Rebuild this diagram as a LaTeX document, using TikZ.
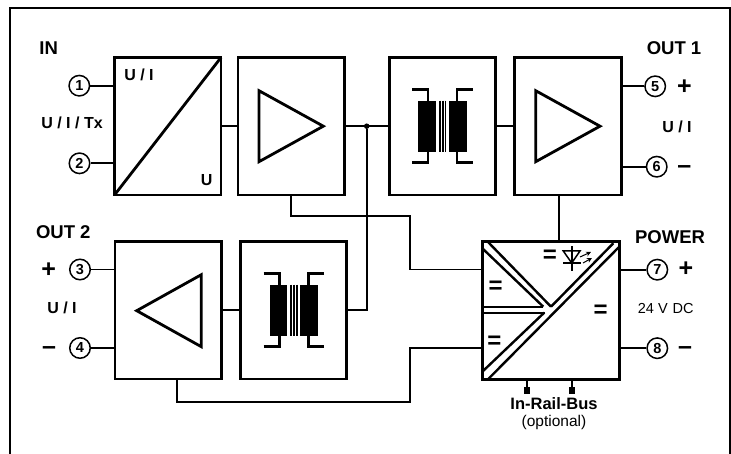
\documentclass[tikz,border=0pt]{standalone}
\usepackage{fontspec}
\setmainfont{Liberation Sans}
\usetikzlibrary{arrows.meta}
\newcommand{\fs}[1]{\fontsize{#1}{#1}\selectfont}
\tikzset{
  x=1pt,y=-1pt,
  blockbox/.style={draw,line width=2.8pt,inner sep=0,outer sep=0,minimum width=106.5pt,minimum height=137.5pt},
  pin/.style={draw,circle,line width=1.5pt,minimum size=20.5pt,inner sep=0,fill=white,font=\bfseries\fs{14.5}},
  wire/.style={line width=1.9pt},
  sym/.style={line width=2.8pt,line join=miter},
  div/.style={line width=2.4pt},
  lab/.style={inner sep=0,font=\bfseries\fs{16}},
  head/.style={inner sep=0,font=\bfseries\fs{18.5}},
  sign/.style={inner sep=0,font=\bfseries\fs{25}},
  eqs/.style={inner sep=0,font=\bfseries\fs{24}},
  xfmr/.pic={
    \fill (-24.2,-25.5) rectangle (-6.5,25.5);
    \fill (6.5,-25.5) rectangle (24.2,25.5);
    \foreach \c in {-2.7,0.3,3.1} \draw[line width=1.6pt] (\c,-25.5) -- (\c,25.5);
    \draw[line width=2.6pt] (-30.2,-36.5) -- (-14.5,-36.5) -- (-14.5,-25.5);
    \draw[line width=2.6pt] (30.2,-36.5) -- (14.5,-36.5) -- (14.5,-25.5);
    \draw[line width=2.6pt] (-30.2,36.5) -- (-14.5,36.5) -- (-14.5,25.5);
    \draw[line width=2.6pt] (30.2,36.5) -- (14.5,36.5) -- (14.5,25.5);
  }
}
\begin{document}
\begin{tikzpicture}
\useasboundingbox (0,0) rectangle (731,454);
% frame
\draw[line width=2.8pt] (10,454) -- (10,8) -- (730.3,8) -- (730.3,454);
% blocks
\node[blockbox] (A) at (167.8,126.2) {};
\node[blockbox] (B) at (291.2,126.2) {};
\node[blockbox] (C) at (442.4,126.2) {};
\node[blockbox] (D) at (567.9,126.2) {};
\node[blockbox] (E) at (168.3,310.3) {};
\node[blockbox] (F) at (293.5,310.3) {};
\node[blockbox,minimum width=137pt] (G) at (550.8,310.5) {};
% pins
\node[pin] (p1) at (79.3,85.7) {1};
\node[pin] (p2) at (79.5,163.3) {2};
\node[pin] (p3) at (80,269.5) {3};
\node[pin] (p4) at (80,348) {4};
\node[pin] (p5) at (655.2,86.3) {5};
\node[pin] (p6) at (656.7,166.7) {6};
\node[pin] (p7) at (657.3,269.7) {7};
\node[pin] (p8) at (657.3,348.2) {8};
% pin wires
\draw[wire] (p1) -- (p1 -| A.west);
\draw[wire] (p2) -- (p2 -| A.west);
\draw[wire] (p3) -- (p3 -| E.west);
\draw[wire] (p4) -- (p4 -| E.west);
\draw[wire] (p5) -- (p5 -| D.east);
\draw[wire] (p6) -- (p6 -| D.east);
\draw[wire] (p7) -- (p7 -| G.east);
\draw[wire] (p8) -- (p8 -| G.east);
% block wires
\draw[wire] (A.east) -- (B.west);
\draw[wire] (B.east) -- (C.west);
\draw[wire] (C.east) -- (D.west);
\draw[wire] (E.east) -- (F.west);
\node[circle,fill,inner sep=0,minimum size=5.5pt] (J) at (366.7,126.2) {};
\draw[wire] (J) -- (J |- F.east) -- (F.east);
\coordinate (k1) at (291,216);
\coordinate (k2) at (410,269.5);
\draw[wire] (k1 |- B.south) -- (k1) -| (k2) -- (G.west |- k2);
\coordinate (k3) at (176.7,401.7);
\coordinate (k4) at (410,347.7);
\draw[wire] (k3 |- E.south) -- (k3) -| (k4) -- (G.west |- k4);
\coordinate (k5) at (559.3,200);
\draw[wire] (k5 |- D.south) -- (k5 |- G.north);
% A diagonal
\draw[line width=2.8pt] (A.south west) -- (A.north east);
% triangles
\draw[sym] (259,90.7) -- (259,161.7) -- (323.3,126.2) -- cycle;
\draw[sym] (535.7,90.7) -- (535.7,161.7) -- (600,126.2) -- cycle;
\draw[sym] (201.3,274.7) -- (201.3,346.7) -- (136.7,310.7) -- cycle;
% transformers
\pic at (442.5,126.2) {xfmr};
\pic at (293.8,310.2) {xfmr};
% power interior
\draw[div] (482.3,371.7) -- (544.3,312.6);
\draw[div] (551,306.7) -- (613.3,243.3);
\draw[div] (488.3,379) -- (619.3,246.7);
\draw[div] (482.3,248.3) -- (543.3,306.7);
\draw[div] (488.3,242.3) -- (551,306.7);
\draw[div] (482.3,307) -- (543.3,307);
\draw[div] (482.3,313) -- (545,313);
% LED
\draw[line width=1.6pt] (571.7,246) -- (571.7,270.7);
\draw[line width=1.5pt] (563.3,251) -- (580,251) -- (571.7,263) -- cycle;
\draw[line width=2pt] (563,263.5) -- (581,263.5);
\draw[line width=1pt,-{Stealth[length=5pt,width=5pt]}] (580,257) -- (591,252);
\draw[line width=1pt,-{Stealth[length=5pt,width=5pt]}] (583,263) -- (592,258);
% bus stubs
\coordinate (s1) at (526.7,394);
\coordinate (s2) at (571.7,394);
\draw[wire] (s1 |- G.south) -- (s1);
\draw[wire] (s2 |- G.south) -- (s2);
\fill (523.7,386.7) rectangle (529.7,394);
\fill (568.7,386.7) rectangle (574.7,394);
% texts
\node[head] (tIN) at (48.7,48) {IN};
\node[lab] (tUIT) at (72,122.7) {U / I / Tx};
\node[lab] (tUI) at (139,75) {U / I};
\node[lab] (tU) at (206.7,180) {U};
\node[head] (tO1) at (674,48) {OUT 1};
\node[sign] (tp1) at (684.3,87) {+};
\node[sign] (tm1) at (684.3,169.5) {–};
\node[lab] (tUI1) at (677,126.7) {U / I};
\node[head] (tO2) at (63.3,232.3) {OUT 2};
\node[sign] (tp2) at (48.7,269.7) {+};
\node[sign] (tm2) at (49,351) {–};
\node[lab] (tUI2) at (62,308.3) {U / I};
\node[head] (tP) at (670,237.3) {POWER};
\node[sign] (tp3) at (686,269) {+};
\node[sign] (tm3) at (685,350.5) {–};
\node[inner sep=0,font=\fs{14.5}] (tV) at (665.7,309) {24 V\,\,DC};
\node[inner sep=0,font=\bfseries\fs{16.5}] (tB) at (554,404) {In-Rail-Bus};
\node[inner sep=0,font=\fs{15.5}] (tOpt) at (554,422) {(optional)};
\node[eqs] (e1) at (495.7,287.5) {=};
\node[eqs] (e2) at (494.3,342) {=};
\node[eqs] (e3) at (600.7,311) {=};
\node[eqs] (e4) at (550,256) {=};
\end{tikzpicture}
\end{document}
